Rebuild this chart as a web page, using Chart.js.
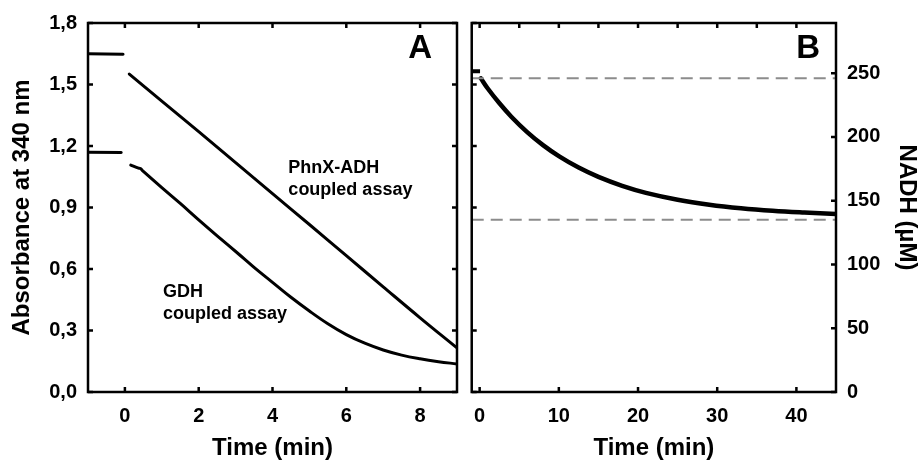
<!DOCTYPE html>
<html>
<head>
<meta charset="utf-8">
<script src="https://cdn.jsdelivr.net/npm/chart.js@4.4.1/dist/chart.umd.min.js"></script>
<style>
  body { margin: 0; background: #fff; }
  #wrap { position: relative; width: 920px; height: 464px; }
  canvas { position: absolute; top: 0; }
  #chartA { left: 0; }
  #chartB { left: 462px; }
</style>
</head>
<body>
<div id="wrap">
  <canvas id="chartA" width="462" height="464"></canvas>
  <canvas id="chartB" width="458" height="464"></canvas>
</div>
<script>
// Panel A: absorbance at 340 nm, two coupled assays
const phnxPreTime = [-1, -0.05];
const phnxPreAbs = [1.650, 1.648];
const phnxTime = [0.12, 1, 2, 3, 4, 5, 6, 7, 8, 9];
const phnxAbs = [1.551, 1.419, 1.270, 1.119, 0.968, 0.817, 0.665, 0.513, 0.362, 0.215];

const gdhPreTime = [-1, -0.1];
const gdhPreAbs = [1.170, 1.168];
const gdhTime = [0.16, 0.35, 0.42, 0.5, 1, 1.5, 2, 2.5, 3.05, 3.5, 4, 4.5, 5, 5.5, 6, 6.5, 7, 7.5, 8, 8.5, 9];
const gdhAbs = [1.107, 1.093, 1.090, 1.076, 0.997, 0.92, 0.84, 0.762, 0.678, 0.608, 0.535, 0.462, 0.395, 0.333, 0.28, 0.238, 0.205, 0.18, 0.162, 0.148, 0.137];

// Panel B: NADH (uM) over a longer run
const nadhPreTime = [-1, 0.05];
const nadhPre = [251.5, 251.5];
const nadhTime = [0.15, 1, 2.5, 4, 6, 8, 10, 12.5, 15, 18, 21, 25, 29, 33, 37, 41, 45];
const nadh = [246, 238.2, 226.4, 215.9, 203.8, 193.6, 185, 176, 168.7, 161.7, 156.2, 150.8, 146.9, 144.1, 142.1, 140.7, 139.6];
const nadhStart = 246;
const nadhEnd = 135;

// ticks
const absTicks = [0, 0.3, 0.6, 0.9, 1.2, 1.5, 1.8];
const timeTicksA = [0, 2, 4, 6, 8];
const timeTicksB = [0, 10, 20, 30, 40];
const timeTopTicksB = [0, 5, 10, 15, 20, 25, 30, 35, 40];
const nadhTicks = [0, 50, 100, 150, 200, 250];
const absMax = 1.8;
const nadhMax = absMax / 0.00622; // 6.22 mM-1 cm-1

const FONT = '"Liberation Sans", Arial, Helvetica, sans-serif';
Chart.defaults.font.family = FONT;
Chart.defaults.color = "#000";

const pts = (xs, ys) => xs.map((x, i) => ({ x, y: ys[i] }));
const setTicks = (vals) => (s) => { s.ticks = vals.map((v) => ({ value: v })); };
const tickFont = { family: FONT, size: 20, weight: "bold" };
const titleFont = { family: FONT, size: 24, weight: "bold" };

function line(data, width, extra) {
  return Object.assign({
    data,
    borderColor: "#000",
    borderWidth: width,
    pointRadius: 0,
    fill: false,
    tension: 0.4,
    borderCapStyle: "round",
  }, extra || {});
}

// frame box, inward ticks and in-plot notes
function frameTicks(cfg) {
  return {
    id: "frameTicks",
    afterDatasetsDraw(chart) {
      const { ctx, chartArea: a, scales } = chart;
      const len = 5;
      ctx.save();
      ctx.strokeStyle = "#000";
      ctx.lineWidth = 2.5;
      ctx.strokeRect(a.left, a.top, a.right - a.left, a.bottom - a.top);
      ctx.beginPath();
      cfg.bottom.forEach((v) => {
        const x = scales.x.getPixelForValue(v);
        ctx.moveTo(x, a.bottom); ctx.lineTo(x, a.bottom - len);
      });
      cfg.top.forEach((v) => {
        const x = scales.x.getPixelForValue(v);
        ctx.moveTo(x, a.top); ctx.lineTo(x, a.top + len);
      });
      cfg.left.forEach((v) => {
        const y = scales[cfg.leftScale].getPixelForValue(v);
        ctx.moveTo(a.left, y); ctx.lineTo(a.left + len, y);
      });
      cfg.right.forEach((v) => {
        const y = scales[cfg.rightScale].getPixelForValue(v);
        ctx.moveTo(a.right, y); ctx.lineTo(a.right - len, y);
      });
      ctx.stroke();

      ctx.fillStyle = "#000";
      ctx.textBaseline = "middle";
      cfg.notes.forEach((n) => {
        ctx.font = "bold " + n.size + "px " + FONT;
        ctx.textAlign = n.align;
        ctx.fillText(n.text, scales.x.getPixelForValue(n.x), scales[n.scale].getPixelForValue(n.y));
      });
      ctx.restore();
    },
  };
}

new Chart(document.getElementById("chartA"), {
  type: "line",
  data: {
    datasets: [
      line(pts(phnxPreTime, phnxPreAbs), 3, { tension: 0 }),
      line(pts(phnxTime, phnxAbs), 3),
      line(pts(gdhPreTime, gdhPreAbs), 3, { tension: 0 }),
      line(pts(gdhTime, gdhAbs), 3),
    ],
  },
  options: {
    responsive: false,
    animation: false,
    devicePixelRatio: 1,
    layout: { padding: { top: 23, right: 5, left: 0, bottom: 0 } },
    plugins: { legend: { display: false }, tooltip: { enabled: false } },
    scales: {
      x: {
        type: "linear", min: -1, max: 9,
        afterBuildTicks: setTicks(timeTicksA),
        afterFit: (s) => { s.height = 72; },
        grid: { display: false, drawTicks: false },
        border: { display: false },
        ticks: { font: tickFont, padding: 12, autoSkip: false, maxRotation: 0 },
        title: { display: true, text: "Time (min)", font: titleFont, padding: { top: 0, bottom: 1 } },
      },
      y: {
        type: "linear", min: 0, max: absMax,
        afterBuildTicks: setTicks(absTicks),
        afterFit: (s) => { s.width = 88; },
        grid: { display: false, drawTicks: false },
        border: { display: false },
        ticks: { font: tickFont, padding: 11, callback: (v) => v.toFixed(1).replace(".", ",") },
        title: { display: true, text: "Absorbance at 340 nm", font: titleFont, padding: { top: 8, bottom: 0 } },
      },
    },
  },
  plugins: [frameTicks({
    bottom: timeTicksA, top: timeTicksA,
    left: absTicks, right: absTicks, leftScale: "y", rightScale: "y",
    notes: [
      { text: "A", x: 8.0, y: 1.673, scale: "y", size: 33, align: "center" },
      { text: "PhnX-ADH", x: 4.43, y: 1.093, scale: "y", size: 18, align: "left" },
      { text: "coupled assay", x: 4.43, y: 0.985, scale: "y", size: 18, align: "left" },
      { text: "GDH", x: 1.03, y: 0.488, scale: "y", size: 18, align: "left" },
      { text: "coupled assay", x: 1.03, y: 0.380, scale: "y", size: 18, align: "left" },
    ],
  })],
});

new Chart(document.getElementById("chartB"), {
  type: "line",
  data: {
    datasets: [
      line(pts([-1, 45], [nadhStart, nadhStart]), 2, { borderColor: "#8c8c8c", borderDash: [12, 7], borderCapStyle: "butt", tension: 0, yAxisID: "yN" }),
      line(pts([-1, 45], [nadhEnd, nadhEnd]), 2, { borderColor: "#8c8c8c", borderDash: [12, 7], borderCapStyle: "butt", tension: 0, yAxisID: "yN" }),
      line(pts(nadhPreTime, nadhPre), 4, { yAxisID: "yN", tension: 0, borderCapStyle: "butt" }),
      line(pts(nadhTime, nadh), 4.5, { yAxisID: "yN" }),
    ],
  },
  options: {
    responsive: false,
    animation: false,
    devicePixelRatio: 1,
    layout: { padding: { top: 23, right: 0, left: 4, bottom: 0 } },
    plugins: { legend: { display: false }, tooltip: { enabled: false } },
    scales: {
      x: {
        type: "linear", min: -1, max: 45,
        afterBuildTicks: setTicks(timeTicksB),
        afterFit: (s) => { s.height = 72; },
        grid: { display: false, drawTicks: false },
        border: { display: false },
        ticks: { font: tickFont, padding: 12, autoSkip: false, maxRotation: 0 },
        title: { display: true, text: "Time (min)", font: titleFont, padding: { top: 0, bottom: 1 } },
      },
      yA: { type: "linear", position: "left", min: 0, max: absMax, display: false },
      yN: {
        type: "linear", position: "right", min: 0, max: nadhMax,
        afterBuildTicks: setTicks(nadhTicks),
        afterFit: (s) => { s.width = 84; },
        grid: { display: false, drawTicks: false },
        border: { display: false },
        ticks: { font: tickFont, padding: 11 },
        title: { display: true, text: "NADH (µM)", font: { family: FONT, size: 24, weight: "bold", lineHeight: 1 }, padding: { top: 1, bottom: 0 } },
      },
    },
  },
  plugins: [frameTicks({
    bottom: timeTicksB, top: timeTopTicksB,
    left: absTicks, right: nadhTicks, leftScale: "yA", rightScale: "yN",
    notes: [
      { text: "B", x: 41.5, y: 269, scale: "yN", size: 33, align: "center" },
    ],
  })],
});
</script>
</body>
</html>
